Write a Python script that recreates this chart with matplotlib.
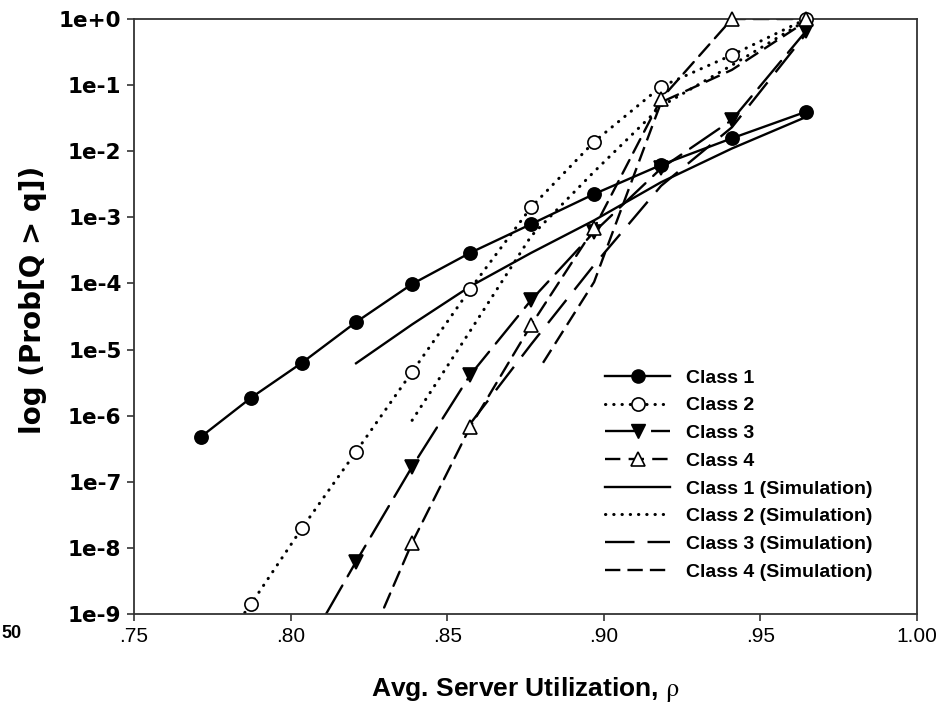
import numpy as np
import matplotlib
matplotlib.use("Agg")
import matplotlib.pyplot as plt
from matplotlib.lines import Line2D

plt.rcParams['font.family'] = ['Liberation Sans', 'DejaVu Sans']
plt.rcParams['mathtext.fontset'] = 'stix'

# utilization values used by the model
rho = [0.7714, 0.7874, 0.8036, 0.8209, 0.8388, 0.8573, 0.8768, 0.8969, 0.9183, 0.9409, 0.9646]

# model curves (class 3 and 4 start later, first points sit below 1e-9)
class1 = [4.8e-7, 1.87e-6, 6.3e-6, 2.6e-5, 9.8e-5, 2.9e-4, 7.9e-4, 2.25e-3, 6.2e-3, 1.57e-2, 3.96e-2]
class2 = [1.3e-10, 1.42e-9, 1.98e-8, 2.85e-7, 4.6e-6, 8.15e-5, 1.42e-3, 1.39e-2, 9.5e-2, 0.285, 1.0]
rho3 = rho[2:]
class3 = [2.3e-10, 6.2e-9, 1.69e-7, 4.1e-6, 5.6e-5, 6.0e-4, 5.5e-3, 2.97e-2, 0.66]
rho4 = rho[3:]
class4 = [1.3e-10, 1.2e-8, 6.7e-7, 2.35e-5, 6.8e-4, 6.2e-2, 1.0, 1.0]

# simulation curves
sim1_rho = rho[3:]
sim1 = [6.2e-6, 2.4e-5, 9.0e-5, 2.9e-4, 9.0e-4, 3.4e-3, 1.1e-2, 3.3e-2]
sim2_rho = rho[4:]
sim2 = [8.5e-7, 1.9e-5, 5.2e-4, 4.9e-3, 4.8e-2, 0.2, 0.95]
sim3_rho = rho[5:]
sim3 = [7.5e-7, 1.2e-5, 1.9e-4, 3.0e-3, 2.3e-2, 0.6]
sim4_rho = [0.8806, 0.8969, 0.9183, 0.9409, 0.9646]
sim4 = [6.3e-6, 1.05e-4, 5.5e-2, 0.17, 0.92]

labels = ['Class 1', 'Class 2', 'Class 3', 'Class 4',
          'Class 1 (Simulation)', 'Class 2 (Simulation)',
          'Class 3 (Simulation)', 'Class 4 (Simulation)']

yticks = [10.0 ** -k for k in range(10)]
ytick_labels = ['1e+0'] + ['1e-%d' % k for k in range(1, 10)]
xticks = [0.75, 0.80, 0.85, 0.90, 0.95, 1.00]
xtick_labels = ['.75', '.80', '.85', '.90', '.95', '1.00']

LW = 1.7
DLW = 2.2          # dotted lines look heavier
dot = (0, (0.1, 2.6))
dash3 = (0, (15, 4.5))
dash3s = (0, (12.5, 5.5))
dash4 = (0, (6.5, 3.5))
dash4s = (0, (6.5, 3))

fig = plt.figure(figsize=(9.41, 7.15), dpi=100)
ax = fig.add_axes([134 / 941, 1 - 614 / 715, (917 - 134) / 941, (614 - 19) / 715])

# simulation lines
ax.plot(sim1_rho, sim1, color='k', lw=LW, ls='-', zorder=2)
ax.plot(sim2_rho, sim2, color='k', lw=DLW, ls=dot, dash_capstyle='round', zorder=2)
ax.plot(sim3_rho, sim3, color='k', lw=LW, ls=dash3s, zorder=2)
ax.plot(sim4_rho, sim4, color='k', lw=LW, ls=dash4s, zorder=2)

# model lines
series = [
    (rho, class1, '-', 'o', 'k', LW),
    (rho, class2, dot, 'o', 'white', DLW),
    (rho3, class3, dash3, 'v', 'k', LW),
    (rho4, class4, dash4, '^', 'white', LW),
]
for xs, ys, ls, mk, fc, lw in series:
    ax.plot(xs, ys, color='k', lw=lw, ls=ls, dash_capstyle='round', zorder=2)
    xs = np.array(xs)
    ys = np.array(ys)
    m = ys >= 1e-9
    ax.plot(xs[m], ys[m], ls='none', marker=mk, ms=9.5, mfc=fc, mec='k',
            mew=1.2, clip_on=False, zorder=3)

ax.set_yscale('log')
ax.set_ylim(1e-9, 1.0)
ax.set_xlim(0.75, 1.00)
ax.set_yticks(yticks)
ax.set_yticklabels(ytick_labels, fontsize=15.5, fontweight='bold', family='DejaVu Sans')
ax.yaxis.set_minor_locator(matplotlib.ticker.NullLocator())
ax.set_xticks(xticks)
ax.set_xticklabels(xtick_labels, fontsize=15)
for s in ax.spines.values():
    s.set_color('#333333')
    s.set_linewidth(1.3)
ax.tick_params(direction='out', length=5, width=1.2, color='#333333', pad=4)

fig.text(525 / 941, 1 - 690 / 715, r'Avg. Server Utilization, $\mathrm{\rho}$',
         ha='center', va='center', fontsize=19, fontweight='bold')
fig.text(33 / 941, 1 - 300 / 715, 'log (Prob[Q > q])', rotation=90,
         ha='center', va='center', fontsize=20, fontweight='bold', family='DejaVu Sans')
fig.text(1 / 941, 1 - 634 / 715, '50', ha='left', va='center',
         fontsize=13, fontweight='bold')

handles = [
    Line2D([], [], color='k', lw=LW, ls='-', marker='o', ms=9.5, mfc='k', mec='k'),
    Line2D([], [], color='k', lw=DLW, ls=dot, dash_capstyle='round', marker='o', ms=9.5, mfc='white', mec='k', mew=1.2),
    Line2D([], [], color='k', lw=LW, ls=dash3, marker='v', ms=9.5, mfc='k', mec='k'),
    Line2D([], [], color='k', lw=LW, ls=dash4, marker='^', ms=9.5, mfc='white', mec='k', mew=1.2),
    Line2D([], [], color='k', lw=LW, ls='-'),
    Line2D([], [], color='k', lw=DLW, ls=dot, dash_capstyle='round'),
    Line2D([], [], color='k', lw=LW, ls=dash3s),
    Line2D([], [], color='k', lw=LW, ls=dash4s),
]
leg = ax.legend(handles, labels, loc='upper left',
                bbox_to_anchor=(605 / 941, 1 - 369 / 715), bbox_transform=fig.transFigure,
                frameon=False, borderaxespad=0, borderpad=0, handlelength=3.35,
                handletextpad=0.8, labelspacing=0.52,
                prop={'size': 14, 'weight': 'bold'})

fig.savefig('out.png', dpi=100)
